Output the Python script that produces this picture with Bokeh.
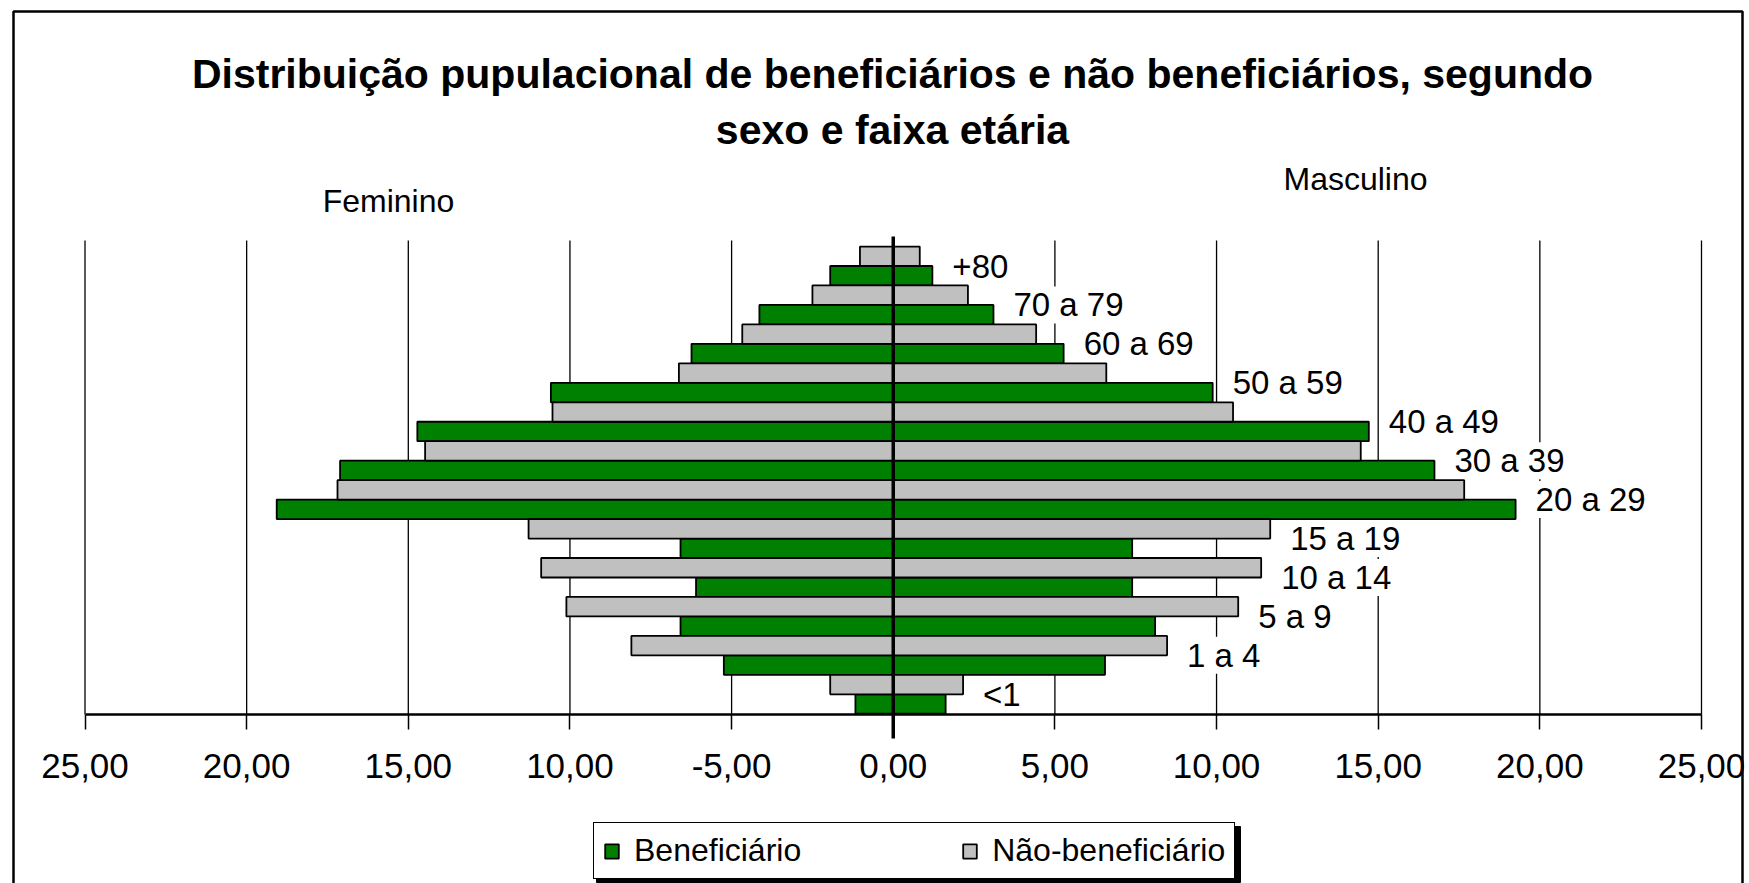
import numpy as np
from bokeh.plotting import figure
from bokeh.models import (Range1d, FixedTicker, LabelSet, Label, ColumnDataSource,
                          Legend, LegendItem, BoxAnnotation)
from bokeh.core.properties import value
from bokeh.embed import file_html
from bokeh.resources import INLINE

# ---------------- data (bottom to top) ----------------
categories = ["<1", "1 a 4", "5 a 9", "10 a 14", "15 a 19", "20 a 29",
              "30 a 39", "40 a 49", "50 a 59", "60 a 69", "70 a 79", "+80"]
benef_fem = [1.17, 5.24, 6.58, 6.10, 6.58, 19.07, 17.11, 14.72, 10.59, 6.24, 4.14, 1.95]
nao_fem = [1.95, 8.10, 10.11, 10.89, 11.28, 17.19, 14.48, 10.54, 6.63, 4.67, 2.50, 1.03]
benef_masc = [1.62, 6.55, 8.10, 7.39, 7.39, 19.25, 16.74, 14.71, 9.88, 5.27, 3.10, 1.21]
nao_masc = [2.16, 8.47, 10.67, 11.38, 11.66, 17.66, 14.46, 10.51, 6.59, 4.42, 2.31, 0.82]
tick_values = [-25, -20, -15, -10, -5, 0, 5, 10, 15, 20, 25]
tick_labels = ["25,00", "20,00", "15,00", "10,00", "-5,00", "0,00",
               "5,00", "10,00", "15,00", "20,00", "25,00"]
series_names = ["Beneficiário", "Não-beneficiário"]
title_lines = ["Distribuição pupulacional de beneficiários e não beneficiários, segundo",
               "sexo e faixa etária"]
side_labels = ["Feminino", "Masculino"]

FONT = "Liberation Sans"
GREEN = "#008000"
GRAY = "#C0C0C0"

W, H = 1749, 883

# pixel layout of the chart area (page pixels)
PX_L, PX_R = 84.5, 1701.0      # x = -25 and x = +25
PY_TOP_CAT, PY_BOT_CAT = 265.5, 693.8   # centres of top and bottom categories
KX = (PX_R - PX_L) / 50.0
KY = (PY_BOT_CAT - PY_TOP_CAT) / (len(categories) - 1)


def X(px):
    return -25 + (px - PX_L) / KX


def Y(py):
    return (PY_BOT_CAT - py) / KY


p = figure(width=W, height=H, output_backend="svg", toolbar_location=None,
           x_range=Range1d(X(0), X(W)), y_range=Range1d(Y(H), Y(0)),
           min_border=0, min_border_left=0, min_border_right=0,
           min_border_top=0, min_border_bottom=0)
p.outline_line_color = None
p.background_fill_color = "white"
p.border_fill_color = "white"
p.yaxis.visible = False
p.xgrid.visible = False
p.ygrid.visible = False

ax = p.xaxis[0]
ax.fixed_location = Y(714)
ax.bounds = (-25, 25)
ax.ticker = FixedTicker(ticks=tick_values)
ax.major_label_overrides = {v: l for v, l in zip(tick_values, tick_labels)}
ax.axis_line_color = "black"
ax.axis_line_width = 2.5
ax.major_tick_line_color = "black"
ax.major_tick_line_width = 1.5
ax.major_tick_out = 15
ax.major_tick_in = 0
ax.minor_tick_line_color = None
ax.major_label_text_font = FONT
ax.major_label_text_font_size = "35px"
ax.major_label_text_color = "black"
ax.major_label_standoff = 24

# vertical gridlines
gl_top = Y(240)
gl_bot = Y(714)
p.segment(x0=tick_values, x1=tick_values, y0=[gl_bot] * len(tick_values),
          y1=[gl_top] * len(tick_values), line_color="black", line_width=1.3,
          level="image")

idx = np.arange(len(categories), dtype=float)
src = ColumnDataSource(dict(
    y_ben=idx - 0.25, y_nao=idx + 0.25,
    ben_f=-np.array(benef_fem), nao_f=-np.array(nao_fem),
    ben_m=np.array(benef_masc), nao_m=np.array(nao_masc),
))

bar_kw = dict(height=0.5, line_color="black", line_width=1.8, source=src)
r_ben_f = p.hbar(y="y_ben", left="ben_f", right=0, fill_color=GREEN, **bar_kw)
r_nao_f = p.hbar(y="y_nao", left="nao_f", right=0, fill_color=GRAY, **bar_kw)
p.hbar(y="y_ben", left=0, right="ben_m", fill_color=GREEN, **bar_kw)
p.hbar(y="y_nao", left=0, right="nao_m", fill_color=GRAY, **bar_kw)

# vertical axis line at zero
p.segment(x0=[0], x1=[0], y0=[Y(738)], y1=[Y(236)], line_color="black", line_width=3.5)

# category labels to the right of each pair
lab_src = ColumnDataSource(dict(
    x=[max(a, b) for a, b in zip(benef_masc, nao_masc)], y=idx, text=categories))
labels = LabelSet(x="x", y="y", text="text", source=lab_src, x_offset=20,
                  text_baseline="middle", text_align="left",
                  text_font=value(FONT), text_font_size="33px", text_color="black",
                  background_fill_color="white", level="underlay")
p.add_layout(labels)

# titles and side labels
for txt, yb in zip(title_lines, [73, 129]):
    p.add_layout(Label(x=X(892), y=Y(yb), text=txt,
                       text_align="center", text_baseline="alphabetic",
                       text_font=FONT, text_font_style="bold",
                       text_font_size="41px", text_color="black"))
for txt, xc, yb in zip(side_labels, [388, 1355], [200, 178]):
    p.add_layout(Label(x=X(xc), y=Y(yb), text=txt,
                       text_align="center", text_baseline="alphabetic",
                       text_font=FONT, text_font_size="32px", text_color="black"))

# outer chart border
p.add_layout(BoxAnnotation(left=X(13), right=X(1742), top=Y(11), bottom=Y(H + 30),
                           fill_color=None, fill_alpha=0, line_color="black",
                           line_alpha=1.0, line_width=2.5, level="annotation"))

# legend shadow
p.add_layout(BoxAnnotation(left=X(596), right=X(1240), top=Y(826), bottom=Y(882),
                           fill_color="black", fill_alpha=1.0, line_color="black",
                           line_alpha=1.0, line_width=1, level="annotation"))

legend = Legend(items=[LegendItem(label=series_names[0], renderers=[r_ben_f]),
                       LegendItem(label=series_names[1], renderers=[r_nao_f])],
                location=(593, 4), orientation="horizontal",
                padding=9, spacing=160, label_standoff=14,
                glyph_width=17, glyph_height=18, margin=0,
                label_text_font=FONT, label_text_font_size="32px",
                label_text_color="black", border_line_color="black",
                border_line_alpha=1.0,
                border_line_width=1.5, background_fill_color="white",
                background_fill_alpha=1.0)
p.add_layout(legend)

open("out.html", "w").write(file_html(p, INLINE))
